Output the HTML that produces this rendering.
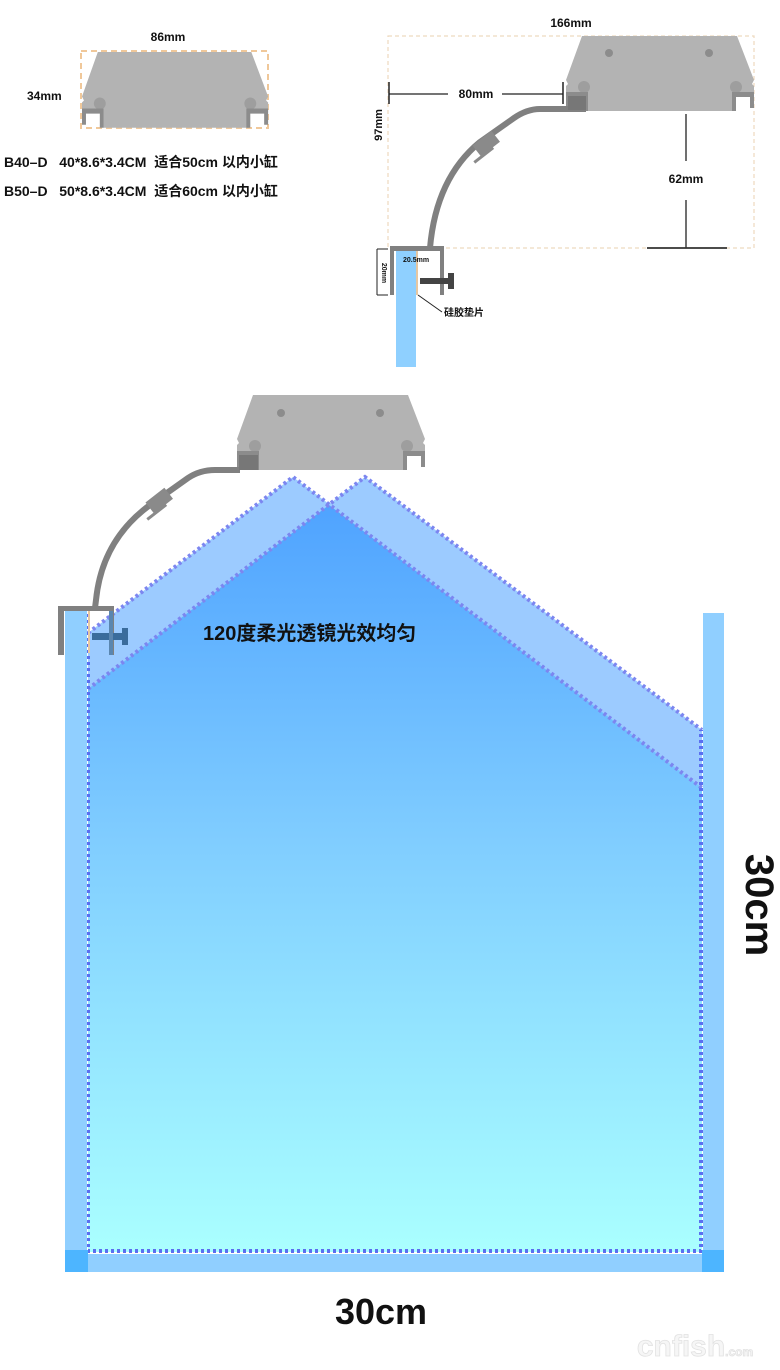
<!DOCTYPE html>
<html><head><meta charset="utf-8"><style>
html,body{margin:0;padding:0;background:#fff;}
svg{display:block;}
text{font-family:"Liberation Sans","Noto Sans CJK SC",sans-serif;font-weight:bold;}
</style></head><body>
<svg width="780" height="1370" viewBox="0 0 780 1370" xmlns="http://www.w3.org/2000/svg">
<defs>
<linearGradient id="g" x1="0" y1="0" x2="0" y2="1">
<stop offset="0" stop-color="#4fa3ff"/><stop offset="0.45" stop-color="#80cdff"/><stop offset="1" stop-color="#aaffff"/>
</linearGradient>
<g id="fx">
<path d="M16,0 L171,0 L188,44 L186,48 L188,50 L188,56 L168,56 L168,75 L22,75 L22,56 L0,56 L0,50 L2,48 L0,44 Z" fill="#b3b3b3"/>
<circle cx="18" cy="51" r="6" fill="#9e9e9e"/><circle cx="170" cy="51" r="6" fill="#9e9e9e"/>
<path d="M0,56 L22,56 L22,75 L18,75 L18,61 L4,61 L4,72 L0,72 Z" fill="#8c8c8c"/>
<path d="M166,56 L188,56 L188,72 L184,72 L184,61 L170,61 L170,75 L166,75 Z" fill="#8c8c8c"/>
</g>
</defs>

<rect x="81" y="51" width="187" height="77" fill="none" stroke="#f0c89a" stroke-width="2" stroke-dasharray="6 4"/>
<use href="#fx" transform="translate(82,52) scale(0.99,1.01)"/>
<text x="168" y="41" font-size="12" text-anchor="middle" fill="#111">86mm</text>
<text x="27" y="100" font-size="12" fill="#111">34mm</text>
<text x="4" y="167" font-size="14" fill="#111">B40–D&#160;&#160;&#160;40*8.6*3.4CM&#160;&#160;适合50cm 以内小缸</text>
<text x="4" y="196" font-size="14" fill="#111">B50–D&#160;&#160;&#160;50*8.6*3.4CM&#160;&#160;适合60cm 以内小缸</text>

<rect x="388" y="36" width="366" height="212" fill="none" stroke="#eed9bf" stroke-width="1.2" stroke-dasharray="4 3"/>
<use href="#fx" transform="translate(566,36)"/>
<circle cx="609" cy="53" r="4" fill="#8c8c8c"/><circle cx="709" cy="53" r="4" fill="#8c8c8c"/>
<text x="571" y="27" font-size="12" text-anchor="middle" fill="#111">166mm</text>
<line x1="389" y1="82" x2="389" y2="104" stroke="#222" stroke-width="1.5"/>
<line x1="563" y1="82" x2="563" y2="104" stroke="#222" stroke-width="1.5"/>
<line x1="389" y1="94" x2="448" y2="94" stroke="#222" stroke-width="1.2"/>
<line x1="502" y1="94" x2="563" y2="94" stroke="#222" stroke-width="1.2"/>
<text x="476" y="98" font-size="12" text-anchor="middle" fill="#111">80mm</text>
<text transform="translate(382,125) rotate(-90)" font-size="11" text-anchor="middle" fill="#111">97mm</text>
<line x1="686" y1="114" x2="686" y2="161" stroke="#222" stroke-width="1.3"/>
<line x1="686" y1="200" x2="686" y2="248" stroke="#222" stroke-width="1.3"/>
<line x1="647" y1="248" x2="727" y2="248" stroke="#333" stroke-width="1.8"/>
<text x="686" y="183" font-size="12" text-anchor="middle" fill="#111">62mm</text>
<path d="M586,109 L540,109 Q527,109 514,118 L480,142 Q436,178 430,248" fill="none" stroke="#808080" stroke-width="6"/>
<g transform="translate(487,143) rotate(-38)"><rect x="-13" y="-7" width="24" height="14" fill="#8a8a8a"/><rect x="-22" y="6" width="24" height="3" fill="#8a8a8a"/></g>
<rect x="568" y="96" width="18" height="14" fill="#777"/>
<rect x="396" y="251" width="20" height="116" fill="#8fd0ff"/>
<rect x="416" y="251" width="2" height="44" fill="#e6c7a2"/>
<path d="M390,246 L444,246 L444,295 L440,295 L440,251 L394,251 L394,295 L390,295 Z" fill="#808080"/>
<rect x="420" y="278" width="28" height="6" fill="#444"/><rect x="448" y="273" width="6" height="16" fill="#444"/>
<line x1="377" y1="249" x2="377" y2="295" stroke="#222" stroke-width="1"/>
<line x1="377" y1="249" x2="388" y2="249" stroke="#222"/><line x1="377" y1="295" x2="388" y2="295" stroke="#222"/>
<text transform="translate(382,273) rotate(90)" font-size="7" text-anchor="middle" fill="#111">20mm</text>
<text x="403" y="262" font-size="7" fill="#111">20.5mm</text>
<line x1="418" y1="295" x2="442" y2="312" stroke="#222" stroke-width="1"/>
<text x="444" y="316" font-size="10" fill="#111">硅胶垫片</text>

<polygon points="88,633 293,477 329,504 365,477 702,730 702,1252 88,1252" fill="#9ccbff"/>
<polygon points="88,689 329,505 702,788 702,1252 88,1252" fill="url(#g)"/>
<g fill="none" stroke="#5b6ef0" stroke-width="4" stroke-dasharray="3 3">
<polyline points="88,633 293,477 702,788" stroke="#7c86f0"/>
<polyline points="88,689 365,477 702,730" stroke="#7c86f0"/>
<polyline points="88,608 88,1251 701,1251 701,730"/>
</g>
<rect x="65" y="608" width="22" height="664" fill="#90cfff"/>
<rect x="703" y="613" width="21" height="659" fill="#90cfff"/>
<rect x="87" y="1254" width="616" height="18" fill="#90cfff"/>
<rect x="65" y="1250" width="23" height="22" fill="#4db5ff"/>
<rect x="702" y="1250" width="22" height="22" fill="#4db5ff"/>

<use href="#fx" transform="translate(237,395)"/>
<circle cx="281" cy="413" r="4" fill="#8c8c8c"/><circle cx="380" cy="413" r="4" fill="#8c8c8c"/>
<path d="M240,470 L215,470 Q200,470 188,478 L150,505 Q102,540 96,600 L95,608" fill="none" stroke="#808080" stroke-width="6"/>
<g transform="translate(160,500) rotate(-38)"><rect x="-13" y="-7" width="24" height="14" fill="#8a8a8a"/><rect x="-22" y="6" width="24" height="3" fill="#8a8a8a"/></g>
<rect x="239" y="455" width="19" height="15" fill="#777"/>
<path d="M58,606 L114,606 L114,655 L109,655 L109,611 L64,611 L64,655 L58,655 Z" fill="#808080"/>
<rect x="88" y="611" width="2" height="42" fill="#e6c7a2"/>
<rect x="92" y="633" width="30" height="7" fill="#3a6c9c"/><rect x="122" y="628" width="6" height="17" fill="#3a6c9c"/>
<rect x="109" y="611" width="4" height="44" fill="#5a86b0"/>

<text x="203" y="640" font-size="20" fill="#111">120度柔光透镜光效均匀</text>
<text transform="translate(746,905) rotate(90)" font-size="40" text-anchor="middle" fill="#111">30cm</text>
<text x="381" y="1324" font-size="36" text-anchor="middle" fill="#111">30cm</text>
<text x="695" y="1356" font-size="30" text-anchor="middle" fill="#f6f6f6" stroke="#e2e2e2" stroke-width="0.8" font-family="Liberation Serif,serif">cnfish<tspan font-size="12">.com</tspan></text>
</svg>
</body></html>
